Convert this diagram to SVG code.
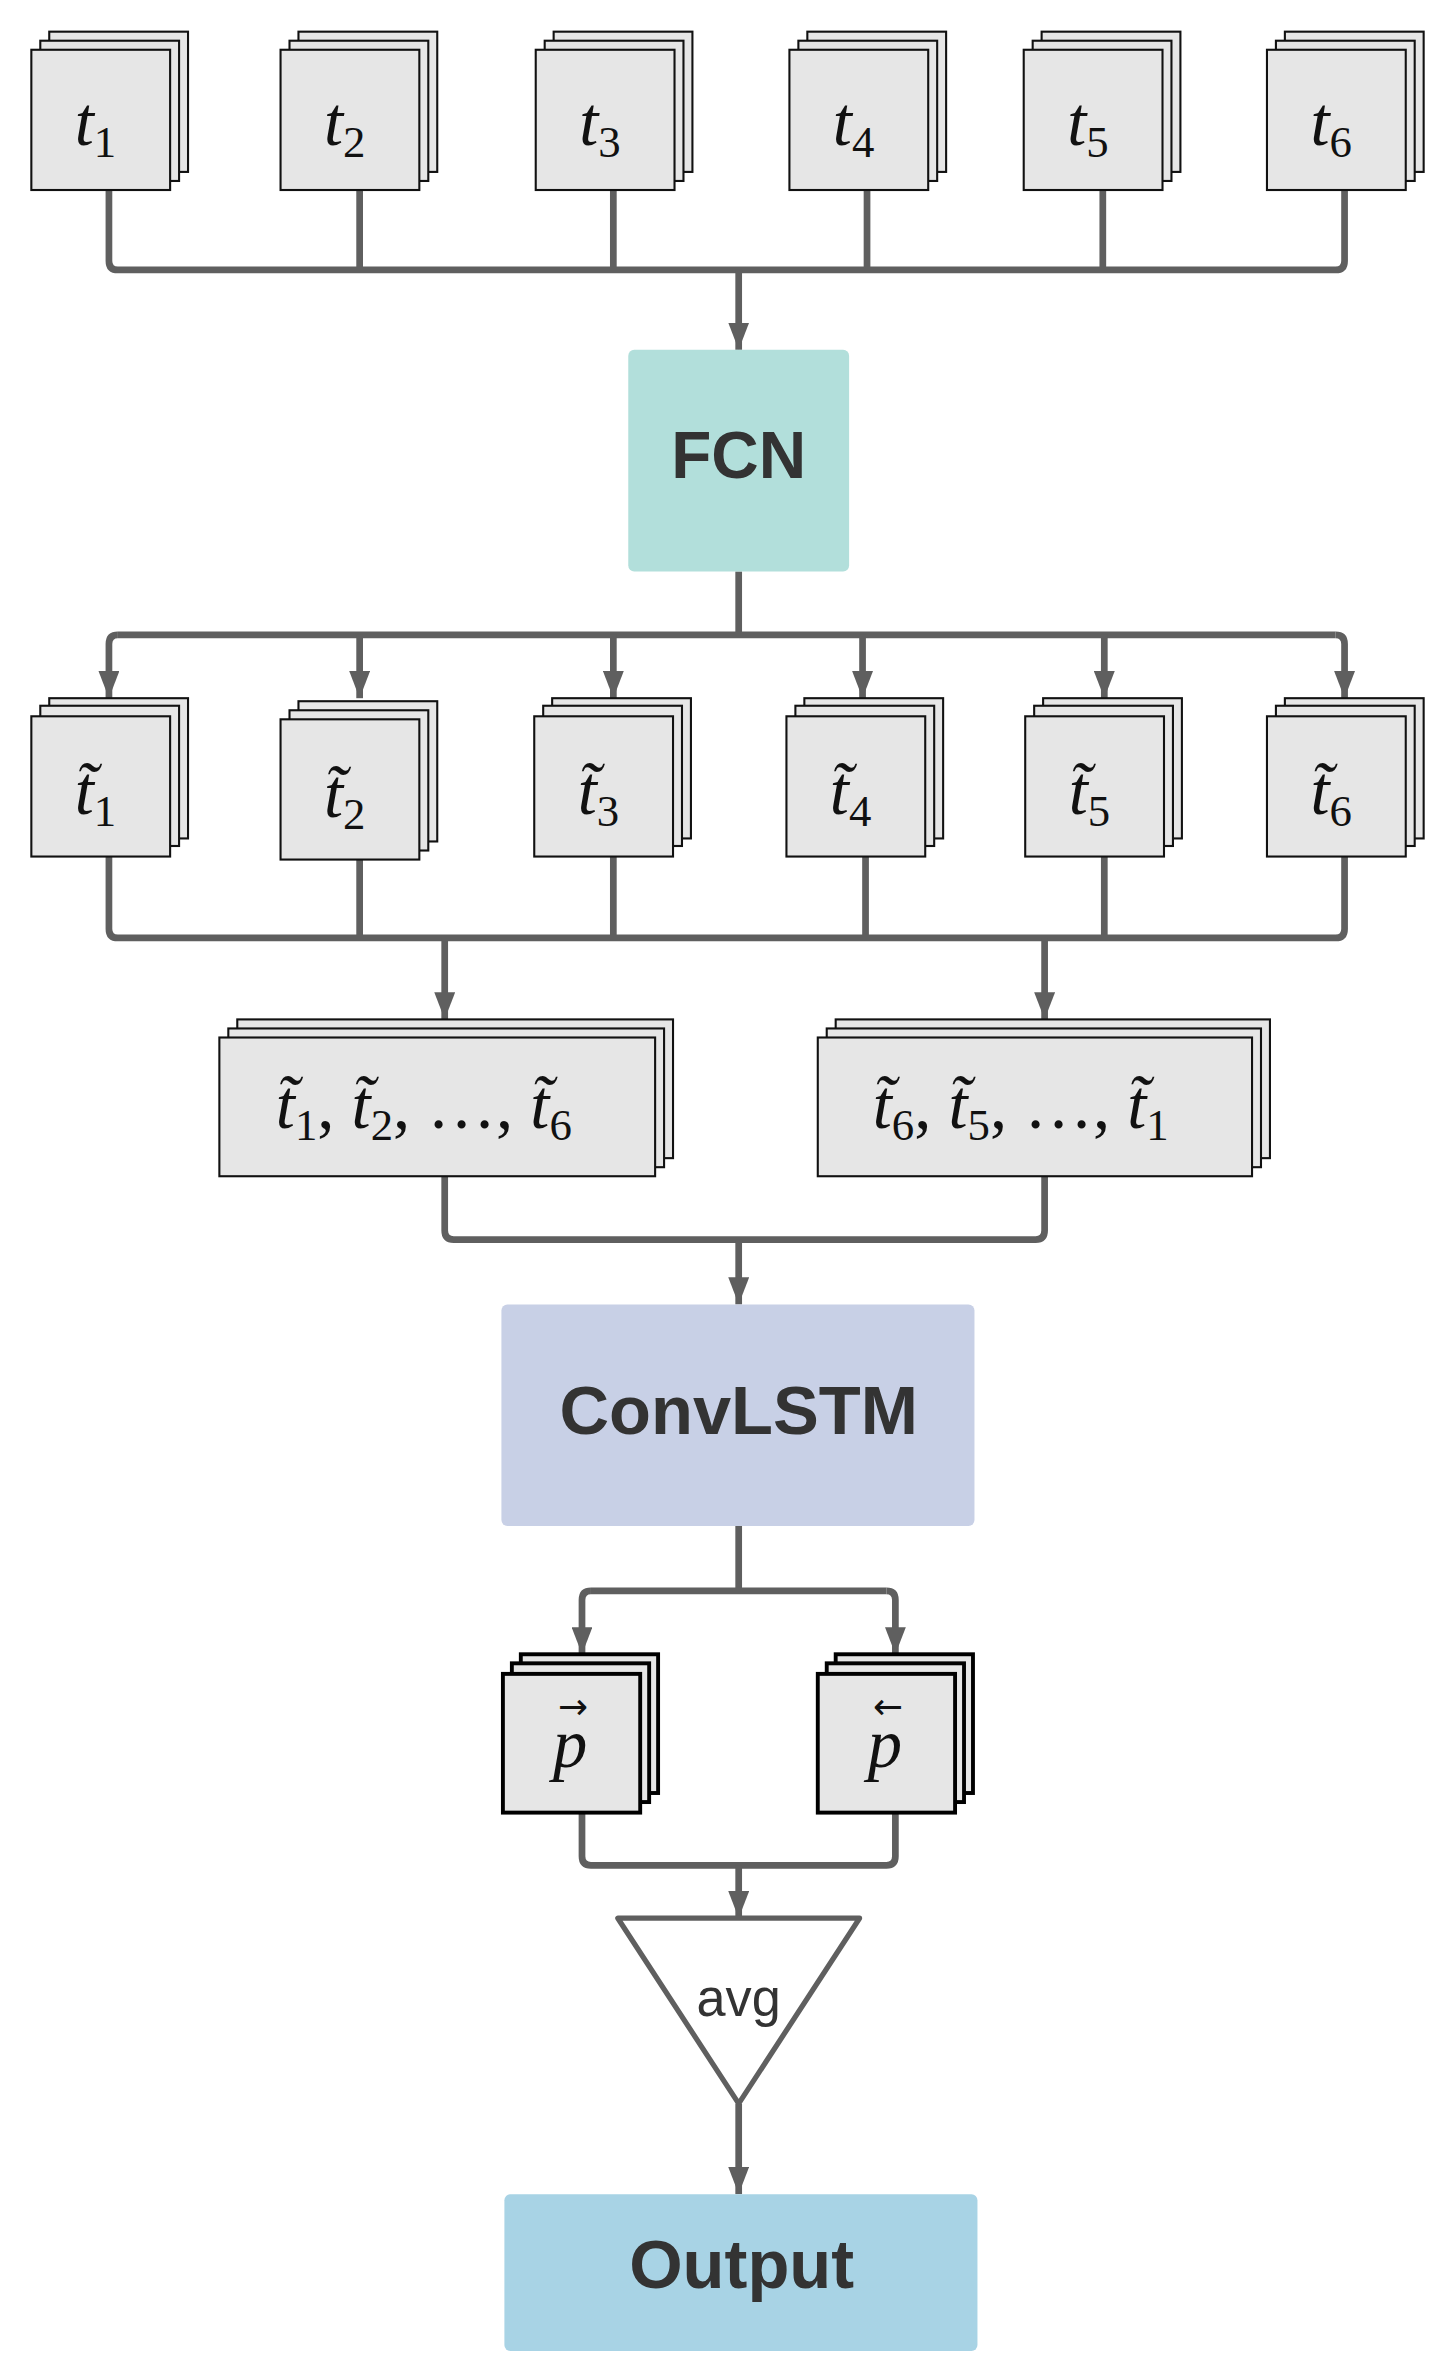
<svg xmlns="http://www.w3.org/2000/svg" width="1455" height="2357" viewBox="0 0 1455 2357">
<defs>
<marker id="ad" markerUnits="userSpaceOnUse" markerWidth="18" markerHeight="14" viewBox="0 0 18 14" refX="18" refY="7" orient="auto"><path d="M0,0 L18,7 L0,14 Z" fill="#5f5f5f"/></marker>
<style>
.f{fill:#e6e6e6;stroke:#111;stroke-width:1.4}
.fp{fill:#e6e6e6;stroke:#000;stroke-width:2.6}
.c{fill:none;stroke:#5f5f5f;stroke-width:4.5;stroke-linejoin:round;stroke-linecap:butt}
.m{font-family:"Liberation Serif","DejaVu Serif",serif;font-size:46px;fill:#111}
.i{font-style:italic}
.s{font-size:30px}
.b{font-family:"Liberation Sans",Arial,sans-serif;font-weight:bold;fill:#333;text-anchor:middle}
.ar{font-family:"DejaVu Sans",sans-serif;font-size:24px;fill:#111;text-anchor:middle}
</style>
</defs>
<g transform="scale(1.4923,1.508)">
<g id="connectors">
<path class="c" d="M73,126 V173 Q73,179 79,179 H895 Q901,179 901,173 V126 M241,126 V179 M411,126 V179 M581,126 V179 M739,126 V179"/>
<path class="c" d="M495,179 V232" marker-end="url(#ad)"/>
<path class="c" d="M495,379 V421 M79,421 H895"/>
<path class="c" d="M79,421 Q73,421 73,427 V463" marker-end="url(#ad)"/>
<path class="c" d="M895,421 Q901,421 901,427 V463" marker-end="url(#ad)"/>
<path class="c" d="M241,421 V463" marker-end="url(#ad)"/>
<path class="c" d="M411,421 V463" marker-end="url(#ad)"/>
<path class="c" d="M578,421 V463" marker-end="url(#ad)"/>
<path class="c" d="M740,421 V463" marker-end="url(#ad)"/>
<path class="c" d="M73,568 V616 Q73,622 79,622 H895 Q901,622 901,616 V568 M241,570 V622 M411,568 V622 M580,568 V622 M740,568 V622"/>
<path class="c" d="M298,622 V676" marker-end="url(#ad)"/>
<path class="c" d="M700,622 V676" marker-end="url(#ad)"/>
<path class="c" d="M298,780 V816 Q298,822 304,822 H694 Q700,822 700,816 V780"/>
<path class="c" d="M495,822 V865" marker-end="url(#ad)"/>
<path class="c" d="M495,1012 V1055 M396,1055 H594"/>
<path class="c" d="M396,1055 Q390,1055 390,1061 V1097" marker-end="url(#ad)"/>
<path class="c" d="M594,1055 Q600,1055 600,1061 V1097" marker-end="url(#ad)"/>
<path class="c" d="M390,1202 V1231 Q390,1237 396,1237 H594 Q600,1237 600,1231 V1202"/>
<path class="c" d="M495,1237 V1272" marker-end="url(#ad)"/>
<path class="c" d="M495,1395 V1455" marker-end="url(#ad)"/>
</g>
<g id="t1"><rect class="f" x="33" y="21" width="93" height="93"/><rect class="f" x="27" y="27" width="93" height="93"/><rect class="f" x="21" y="33" width="93" height="93"/><text class="m" x="64" y="96" text-anchor="middle"><tspan class="i">t</tspan><tspan class="s" dy="8">1</tspan></text></g>
<g id="t2"><rect class="f" x="200" y="21" width="93" height="93"/><rect class="f" x="194" y="27" width="93" height="93"/><rect class="f" x="188" y="33" width="93" height="93"/><text class="m" x="231" y="96" text-anchor="middle"><tspan class="i">t</tspan><tspan class="s" dy="8">2</tspan></text></g>
<g id="t3"><rect class="f" x="371" y="21" width="93" height="93"/><rect class="f" x="365" y="27" width="93" height="93"/><rect class="f" x="359" y="33" width="93" height="93"/><text class="m" x="402" y="96" text-anchor="middle"><tspan class="i">t</tspan><tspan class="s" dy="8">3</tspan></text></g>
<g id="t4"><rect class="f" x="541" y="21" width="93" height="93"/><rect class="f" x="535" y="27" width="93" height="93"/><rect class="f" x="529" y="33" width="93" height="93"/><text class="m" x="572" y="96" text-anchor="middle"><tspan class="i">t</tspan><tspan class="s" dy="8">4</tspan></text></g>
<g id="t5"><rect class="f" x="698" y="21" width="93" height="93"/><rect class="f" x="692" y="27" width="93" height="93"/><rect class="f" x="686" y="33" width="93" height="93"/><text class="m" x="729" y="96" text-anchor="middle"><tspan class="i">t</tspan><tspan class="s" dy="8">5</tspan></text></g>
<g id="t6"><rect class="f" x="861" y="21" width="93" height="93"/><rect class="f" x="855" y="27" width="93" height="93"/><rect class="f" x="849" y="33" width="93" height="93"/><text class="m" x="892" y="96" text-anchor="middle"><tspan class="i">t</tspan><tspan class="s" dy="8">6</tspan></text></g>
<g id="fcn"><rect x="421" y="232" width="148" height="147" rx="4" fill="#b2dfdb"/><text class="b" x="495" y="317" font-size="44">FCN</text></g>
<g id="tt1"><rect class="f" x="33" y="463" width="93" height="93"/><rect class="f" x="27" y="468" width="93" height="93"/><rect class="f" x="21" y="475" width="93" height="93"/><text class="m" x="64" y="540" text-anchor="middle"><tspan class="i">t̃</tspan><tspan class="s" dy="8">1</tspan></text></g>
<g id="tt2"><rect class="f" x="200" y="465" width="93" height="93"/><rect class="f" x="194" y="471" width="93" height="93"/><rect class="f" x="188" y="477" width="93" height="93"/><text class="m" x="231" y="542" text-anchor="middle"><tspan class="i">t̃</tspan><tspan class="s" dy="8">2</tspan></text></g>
<g id="tt3"><rect class="f" x="370" y="463" width="93" height="93"/><rect class="f" x="364" y="468" width="93" height="93"/><rect class="f" x="358" y="475" width="93" height="93"/><text class="m" x="401" y="540" text-anchor="middle"><tspan class="i">t̃</tspan><tspan class="s" dy="8">3</tspan></text></g>
<g id="tt4"><rect class="f" x="539" y="463" width="93" height="93"/><rect class="f" x="533" y="468" width="93" height="93"/><rect class="f" x="527" y="475" width="93" height="93"/><text class="m" x="570" y="540" text-anchor="middle"><tspan class="i">t̃</tspan><tspan class="s" dy="8">4</tspan></text></g>
<g id="tt5"><rect class="f" x="699" y="463" width="93" height="93"/><rect class="f" x="693" y="468" width="93" height="93"/><rect class="f" x="687" y="475" width="93" height="93"/><text class="m" x="730" y="540" text-anchor="middle"><tspan class="i">t̃</tspan><tspan class="s" dy="8">5</tspan></text></g>
<g id="tt6"><rect class="f" x="861" y="463" width="93" height="93"/><rect class="f" x="855" y="468" width="93" height="93"/><rect class="f" x="849" y="475" width="93" height="93"/><text class="m" x="892" y="540" text-anchor="middle"><tspan class="i">t̃</tspan><tspan class="s" dy="8">6</tspan></text></g>
<g id="seqf"><rect class="f" x="159" y="676" width="292" height="92"/><rect class="f" x="153" y="682" width="292" height="92"/><rect class="f" x="147" y="688" width="292" height="92"/><text class="m" x="284" y="748" text-anchor="middle"><tspan class="i">t̃</tspan><tspan class="s" dy="8">1</tspan><tspan dy="-8">, </tspan><tspan class="i">t̃</tspan><tspan class="s" dy="8">2</tspan><tspan dy="-8">, …, </tspan><tspan class="i">t̃</tspan><tspan class="s" dy="8">6</tspan></text></g>
<g id="seqb"><rect class="f" x="560" y="676" width="291" height="92"/><rect class="f" x="554" y="682" width="291" height="92"/><rect class="f" x="548" y="688" width="291" height="92"/><text class="m" x="684" y="748" text-anchor="middle"><tspan class="i">t̃</tspan><tspan class="s" dy="8">6</tspan><tspan dy="-8">, </tspan><tspan class="i">t̃</tspan><tspan class="s" dy="8">5</tspan><tspan dy="-8">, …, </tspan><tspan class="i">t̃</tspan><tspan class="s" dy="8">1</tspan></text></g>
<g id="convlstm"><rect x="336" y="865" width="317" height="147" rx="4" fill="#c8d0e6"/><text class="b" x="495" y="951" font-size="46">ConvLSTM</text></g>
<g id="pf"><rect class="fp" x="349" y="1097" width="92" height="92"/><rect class="fp" x="343" y="1103" width="92" height="92"/><rect class="fp" x="337" y="1110" width="92" height="92"/><text class="m i" x="382" y="1172" text-anchor="middle">p</text><text class="ar" x="384" y="1140">→</text></g>
<g id="pb"><rect class="fp" x="560" y="1097" width="92" height="92"/><rect class="fp" x="554" y="1103" width="92" height="92"/><rect class="fp" x="548" y="1110" width="92" height="92"/><text class="m i" x="593" y="1172" text-anchor="middle">p</text><text class="ar" x="595" y="1140">←</text></g>
<g id="avg"><path d="M414,1272 H576 L495,1395 Z" fill="#fff" stroke="#5f5f5f" stroke-width="3.5" stroke-linejoin="round"/><text x="495" y="1337" font-family="'Liberation Sans',Arial,sans-serif" font-size="35" text-anchor="middle" fill="#333">avg</text></g>
<g id="output"><rect x="338" y="1455" width="317" height="104" rx="4" fill="#a8d3e5"/><text class="b" x="497" y="1517" font-size="46">Output</text></g>
</g>
</svg>
